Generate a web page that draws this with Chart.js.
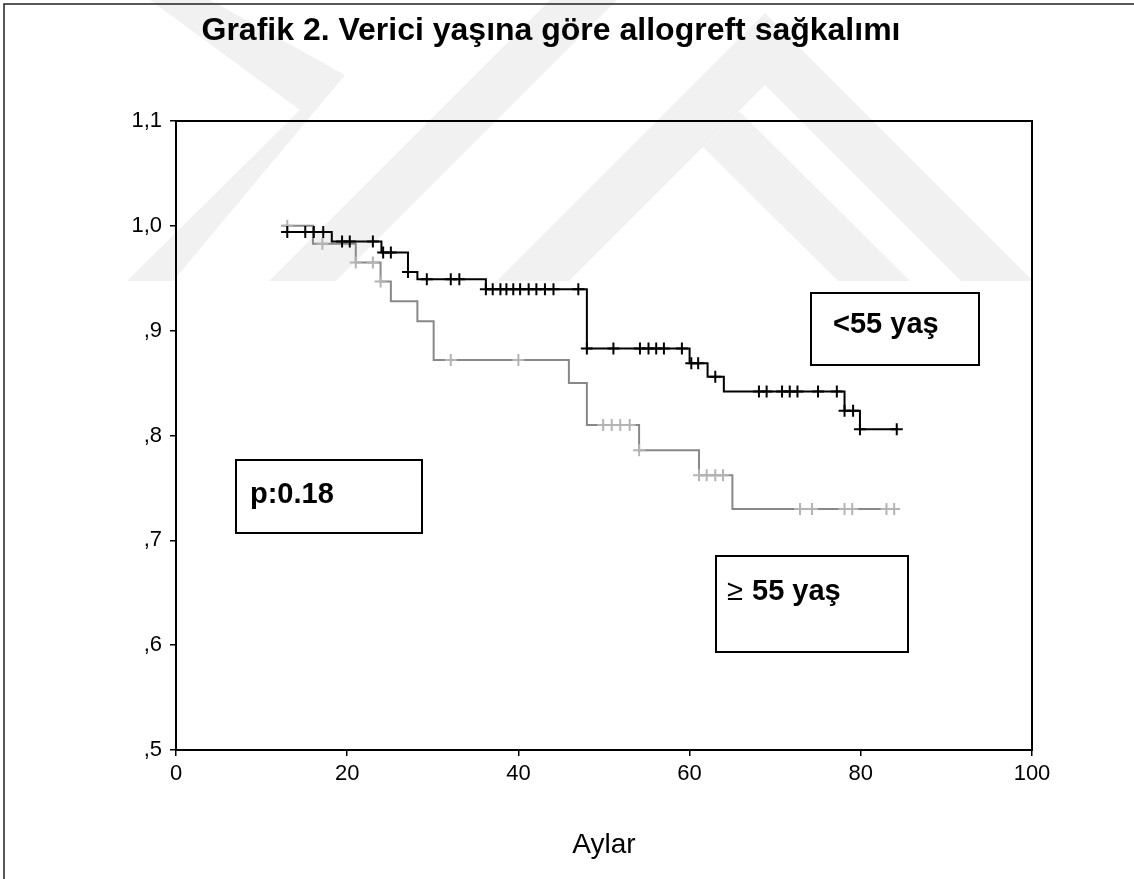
<!DOCTYPE html>
<html>
<head>
<meta charset="utf-8">
<title>Grafik 2</title>
<script src="https://cdn.jsdelivr.net/npm/chart.js@4.4.1/dist/chart.umd.min.js"></script>
<style>
  html, body { margin: 0; padding: 0; background: #fff; }
  #wrap { width: 1134px; height: 879px; }
</style>
</head>
<body>
<div id="wrap"><canvas id="km" width="1134" height="879"></canvas></div>
<script>
const FONT = '"Liberation Sans", Arial, Helvetica, sans-serif';

const xTickValues = [0, 20, 40, 60, 80, 100];
const yTickValues = [0.5, 0.6, 0.7, 0.8, 0.9, 1.0, 1.1];
const yTickLabels = [",5", ",6", ",7", ",8", ",9", "1,0", "1,1"];

// <55 yaş : time of each step (months) and survival after it
const youngTimes = [12.3, 18.2, 24.0, 27.1, 28.2, 36.2, 48.0, 60.0, 62.1, 64.0, 78.1, 79.9, 84.3];
const youngSurv  = [0.994, 0.985, 0.9745, 0.956, 0.949, 0.9395, 0.883, 0.869, 0.856, 0.842, 0.8235, 0.806, 0.806];
// censored cases (+)
const youngCensT = [13.0, 15.1, 16.1, 17.2, 19.4, 20.3, 23.0, 24.2, 25.1, 27.1, 29.3, 32.1, 33.1,
  36.2, 37.0, 37.9, 38.6, 39.4, 40.2, 41.2, 42.1, 43.1, 44.1, 47.0,
  48.0, 51.1, 54.2, 55.2, 56.1, 57.0, 59.1, 60.2, 61.0, 63.0,
  68.1, 69.0, 70.8, 71.7, 72.6, 75.0, 77.2, 78.1, 79.1, 79.9, 84.2];
const youngCensS = [0.994, 0.994, 0.994, 0.994, 0.985, 0.985, 0.985, 0.9745, 0.9745, 0.956, 0.949, 0.949, 0.949,
  0.9395, 0.9395, 0.9395, 0.9395, 0.9395, 0.9395, 0.9395, 0.9395, 0.9395, 0.9395, 0.9395,
  0.883, 0.883, 0.883, 0.883, 0.883, 0.883, 0.883, 0.869, 0.869, 0.856,
  0.842, 0.842, 0.842, 0.842, 0.842, 0.842, 0.842, 0.8235, 0.8235, 0.806, 0.806];

// >=55 yaş
const oldTimes = [12.3, 16.0, 21.0, 23.9, 25.1, 28.2, 30.1, 45.9, 48.0, 54.1, 61.1, 65.0, 84.0];
const oldSurv  = [1.0, 0.983, 0.965, 0.947, 0.928, 0.909, 0.872, 0.850, 0.810, 0.786, 0.762, 0.730, 0.730];
const oldCensT = [13.0, 17.1, 21.0, 23.0, 23.9, 32.1, 40.0, 49.9, 50.9, 51.9, 53.0, 54.1,
  61.1, 62.0, 63.0, 63.9, 72.9, 74.3, 78.1, 79.0, 83.0, 83.9];
const oldCensS = [1.0, 0.983, 0.965, 0.965, 0.947, 0.872, 0.872, 0.810, 0.810, 0.810, 0.810, 0.786,
  0.762, 0.762, 0.762, 0.762, 0.730, 0.730, 0.730, 0.730, 0.730, 0.730];

function pts(xs, ys) {
  return xs.map((x, i) => ({ x: x, y: ys[i] }));
}

// light watermark of the source page, and the page frame
const pageBackground = {
  id: "pageBackground",
  beforeDraw(chart) {
    const ctx = chart.ctx;
    ctx.save();
    ctx.fillStyle = "#fff";
    ctx.fillRect(0, 0, chart.width, chart.height);

    ctx.fillStyle = "#f1f1f1";
    const shapes = [
      [[150, 0], [210, 0], [345, 75], [173, 281], [127, 281], [300, 110]],
      [[550, 0], [617, 0], [336, 281], [269, 281]],
      [[765, 13], [1033, 281], [961, 281], [765, 85], [569, 281], [497, 281]],
      [[739, 111], [910, 281], [838, 281], [703, 147]]
    ];
    for (const s of shapes) {
      ctx.beginPath();
      ctx.moveTo(s[0][0], s[0][1]);
      for (let i = 1; i < s.length; i++) ctx.lineTo(s[i][0], s[i][1]);
      ctx.closePath();
      ctx.fill();
    }

    ctx.strokeStyle = "#222";
    ctx.lineWidth = 1.5;
    ctx.beginPath();
    ctx.moveTo(4, chart.height);
    ctx.lineTo(4, 4);
    ctx.lineTo(chart.width, 4);
    ctx.stroke();
    ctx.restore();
  }
};

const frameAndNotes = {
  id: "frameAndNotes",
  afterDraw(chart) {
    const ctx = chart.ctx;
    const a = chart.chartArea;
    ctx.save();
    ctx.strokeStyle = "#000";
    ctx.lineWidth = 2;
    ctx.strokeRect(a.left, a.top, a.right - a.left, a.bottom - a.top);

    ctx.fillStyle = "#000";
    ctx.textBaseline = "alphabetic";
    ctx.textAlign = "center";
    ctx.font = "bold 32px " + FONT;
    ctx.fillText("Grafik 2. Verici yaşına göre allogreft sağkalımı", 551, 40);

    function box(x, y, w, h) {
      ctx.fillStyle = "#fff";
      ctx.fillRect(x, y, w, h);
      ctx.strokeStyle = "#000";
      ctx.lineWidth = 2;
      ctx.strokeRect(x, y, w, h);
      ctx.fillStyle = "#000";
    }
    ctx.textAlign = "left";
    box(811, 293, 168, 72);
    ctx.font = "bold 29px " + FONT;
    ctx.fillText("<55 yaş", 833, 333);

    box(236, 460, 186, 73);
    ctx.font = "bold 29px " + FONT;
    ctx.fillText("p:0.18", 250, 503);

    box(716, 556, 192, 96);
    ctx.font = "29px " + FONT;
    ctx.fillText("≥", 727, 600);
    ctx.font = "bold 29px " + FONT;
    ctx.fillText("55 yaş", 752, 600);
    ctx.restore();
  }
};

const axisGrid = {
  display: true,
  drawOnChartArea: false,
  drawTicks: true,
  tickLength: 6,
  color: "#000",
  lineWidth: 1.5
};

new Chart(document.getElementById("km"), {
  type: "line",
  data: {
    datasets: [
      {
        label: "<55 yaş censored",
        type: "scatter",
        data: pts(youngCensT, youngCensS),
        pointStyle: "cross",
        pointRadius: 6,
        borderWidth: 2,
        borderColor: "#000"
      },
      {
        label: "<55 yaş",
        data: pts(youngTimes, youngSurv),
        stepped: true,
        borderColor: "#000",
        borderWidth: 2,
        pointRadius: 0,
        fill: false
      },
      {
        label: "≥55 yaş censored",
        type: "scatter",
        data: pts(oldCensT, oldCensS),
        pointStyle: "cross",
        pointRadius: 6,
        borderWidth: 2,
        borderColor: "#b4b4b4"
      },
      {
        label: "≥55 yaş",
        data: pts(oldTimes, oldSurv),
        stepped: true,
        borderColor: "#888888",
        borderWidth: 2,
        pointRadius: 0,
        fill: false
      }
    ]
  },
  options: {
    responsive: false,
    animation: false,
    events: [],
    layout: { padding: { left: 0, top: 121, right: 102, bottom: 0 } },
    plugins: {
      legend: { display: false },
      tooltip: { enabled: false },
      title: { display: false }
    },
    scales: {
      x: {
        type: "linear",
        min: 0,
        max: 100,
        afterBuildTicks: (s) => { s.ticks = xTickValues.map(v => ({ value: v })); },
        afterFit: (s) => { s.height = 129; },
        ticks: {
          color: "#000",
          font: { family: FONT, size: 22 },
          padding: 5,
          maxRotation: 0,
          callback: (v) => String(v)
        },
        grid: axisGrid,
        border: { display: true, color: "#000", width: 2 },
        title: {
          display: true,
          text: "Aylar",
          color: "#000",
          font: { family: FONT, size: 28 },
          padding: { top: 0, bottom: 17 }
        }
      },
      y: {
        type: "linear",
        min: 0.5,
        max: 1.1,
        afterBuildTicks: (s) => { s.ticks = yTickValues.map(v => ({ value: v })); },
        afterFit: (s) => { s.width = 176; },
        ticks: {
          color: "#000",
          font: { family: FONT, size: 22 },
          padding: 8,
          callback: (v, i) => yTickLabels[i]
        },
        grid: axisGrid,
        border: { display: true, color: "#000", width: 2 }
      }
    }
  },
  plugins: [pageBackground, frameAndNotes]
});
</script>
</body>
</html>
